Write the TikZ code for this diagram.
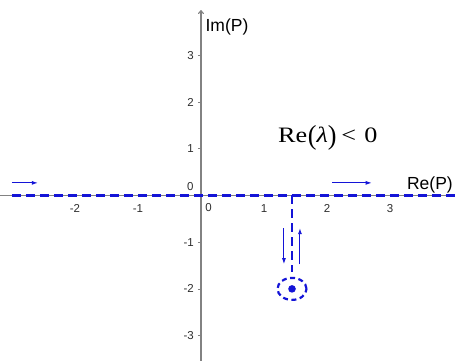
\documentclass[tikz,border=0pt]{standalone}
\usepackage{fontspec}
\setmainfont{Liberation Sans}
\newfontfamily\serifrm{Liberation Serif}
\usetikzlibrary{arrows.meta,shapes.geometric}
\definecolor{pathblue}{RGB}{20,20,215}
\definecolor{axisgray}{RGB}{130,130,130}
\definecolor{ticktext}{RGB}{45,45,45}
\begin{document}
\begin{tikzpicture}[x=63pt,y=46.7pt,
  axisline/.style={draw=axisgray,line width=1.1pt},
  ticklab/.style={text=ticktext,font=\fontsize{11.5}{12}\selectfont,inner sep=0pt},
  axlab/.style={text=black,font=\fontsize{17.5}{18}\selectfont,inner sep=0pt},
  flowpath/.style={draw=pathblue,line width=2.6pt,dash pattern=on 9pt off 5pt},
  flowarrow/.style={draw=pathblue,line width=0.9pt,-{Latex[length=6pt,width=4pt]}}]
\useasboundingbox (-3.190,-3.544) rectangle (4.048,4.186);
% axes
\coordinate (xl) at (-3.19,0);
\coordinate (xr) at (4.04,0);
\coordinate (yb) at (0,-3.544);
\coordinate (yt) at (0,3.97);
\draw[axisline] (xl) -- (xr);
\draw[axisline,-{To[length=4pt,width=6pt]}] (yb) -- (yt);
% y ticks and labels
\foreach \k in {-3,-2,-1,1,2,3}{
  \draw[axisgray,line width=0.6pt] (-0.05,\k) -- (0,\k);
  \node[ticklab,anchor=east] (ly\k) at (-0.11,\k) {\k};
}
\foreach \k in {-2,-1,1,2,3}{
  \node[ticklab] (lx\k) at (\k,-0.27) {\k};
}
\node[ticklab] (lx0) at (0.12,-0.25) {0};
\node[ticklab] (ly0) at (-0.17,0.19) {0};
% axis labels
\node[axlab,anchor=west] (imP) at (0.07,3.6) {Im(P)};
\node[axlab,anchor=east] (reP) at (4.0,0.22) {Re(P)};
% dashed paths
\coordinate (dl) at (-3.0,0);
\coordinate (dr) at (4.048,0);
\draw[flowpath] (dl) -- (dr);
\coordinate (vt) at (1.445,0);
\coordinate (vb) at (1.445,-1.64);
\draw[flowpath] (vt) -- (vb);
\node[draw=pathblue,line width=2.2pt,dash pattern=on 5pt off 3.5pt,ellipse,minimum width=29pt,minimum height=22pt,inner sep=0pt] (ring) at (1.445,-2) {};
\fill[pathblue] (ring.center) circle (3.8pt);
% flow arrows
\coordinate (a1s) at (-3.0,0.27);
\coordinate (a1e) at (-2.59,0.27);
\draw[flowarrow] (a1s) -- (a1e);
\coordinate (a2s) at (2.08,0.27);
\coordinate (a2e) at (2.71,0.27);
\draw[flowarrow] (a2s) -- (a2e);
\coordinate (a3s) at (1.317,-0.70);
\coordinate (a3e) at (1.317,-1.47);
\draw[flowarrow] (a3s) -- (a3e);
\coordinate (a4s) at (1.571,-1.47);
\coordinate (a4e) at (1.571,-0.70);
\draw[flowarrow] (a4s) -- (a4e);
% condition
\node[inner sep=0pt,anchor=base west,font=\serifrm\fontsize{22}{24}\selectfont] (cond) at (1.222,1.124)
  {\scalebox{1.19}[1]{Re\kern0.5pt\raisebox{-1.5pt}{\scalebox{1}[1.25]{(}}\textit{λ}\raisebox{-1.5pt}{\scalebox{1}[1.25]{)}}\kern4pt<\kern7pt0}};
\end{tikzpicture}
\end{document}
